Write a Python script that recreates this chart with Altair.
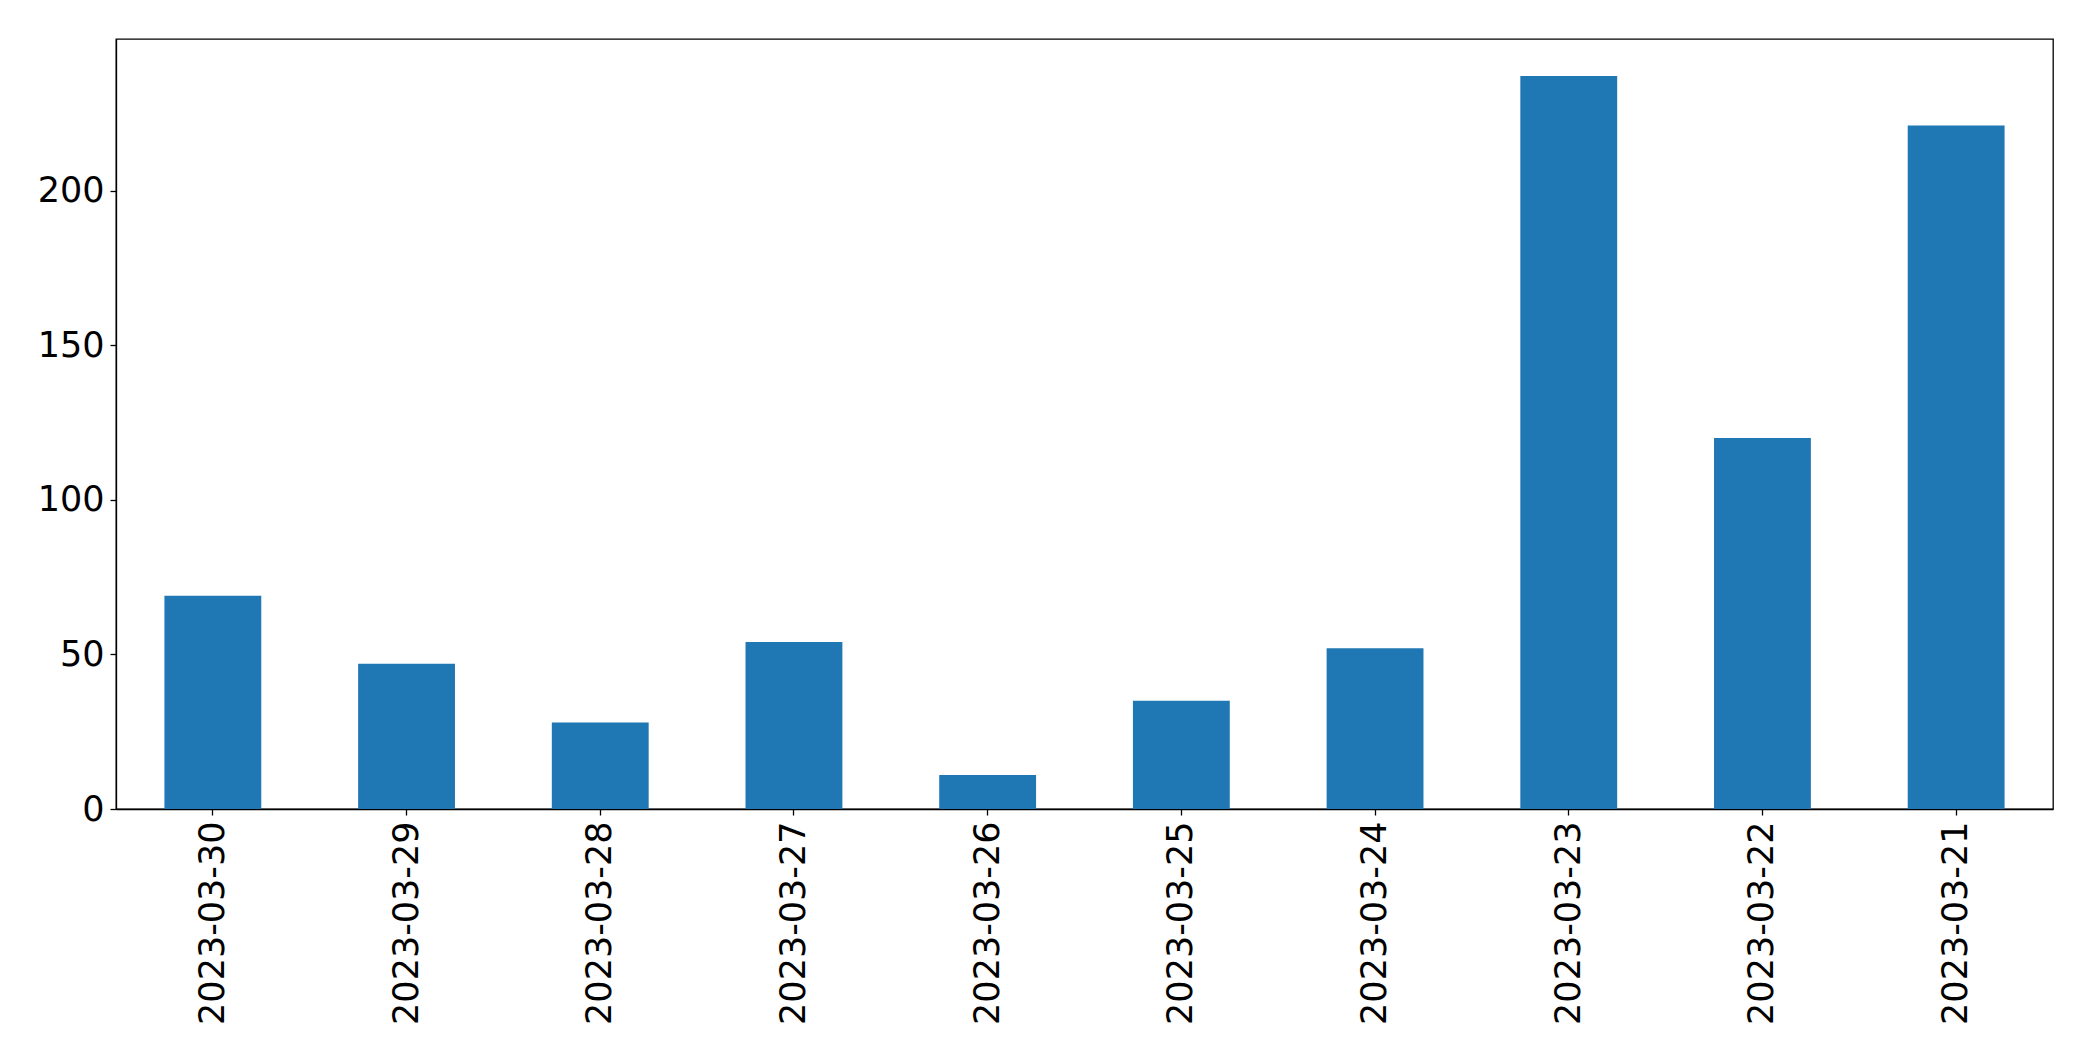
import altair as alt
import pandas as pd

dates = ["2023-03-30", "2023-03-29", "2023-03-28", "2023-03-27", "2023-03-26",
         "2023-03-25", "2023-03-24", "2023-03-23", "2023-03-22", "2023-03-21"]
counts = [69, 47, 28, 54, 11, 35, 52, 237, 120, 221]
y_ticks = [0, 50, 100, 150, 200]

df = pd.DataFrame({"date": dates, "count": counts})

chart = alt.Chart(df).mark_bar(color="#1f77b4").encode(
    x=alt.X("date:N", sort=None, title=None,
            scale=alt.Scale(paddingInner=0.5, paddingOuter=0.25),
            axis=alt.Axis(labelAngle=-90, labelFontSize=35, labelFont="DejaVu Sans",
                          labelLimit=0,
                          labelColor="black", tickColor="black", tickSize=6, tickWidth=1.3,
                          domainColor="black", domainWidth=1.3, labelPadding=6)),
    y=alt.Y("count:Q", title=None,
            scale=alt.Scale(domain=[0, 249], nice=False),
            axis=alt.Axis(values=y_ticks, labelFontSize=35, labelFont="DejaVu Sans",
                          labelColor="black", tickColor="black", tickSize=6, tickWidth=1.3,
                          domainColor="black", domainWidth=1.3, grid=False, labelPadding=6)),
).properties(
    width=1937, height=770,
    autosize=alt.AutoSizeParams(type="none"),
    padding={"left": 108, "top": 31, "right": 30, "bottom": 240},
).configure(background="white").configure_view(stroke="black", strokeWidth=1.3)

chart.save("out.html", embed_options={"renderer": "svg", "actions": False})
